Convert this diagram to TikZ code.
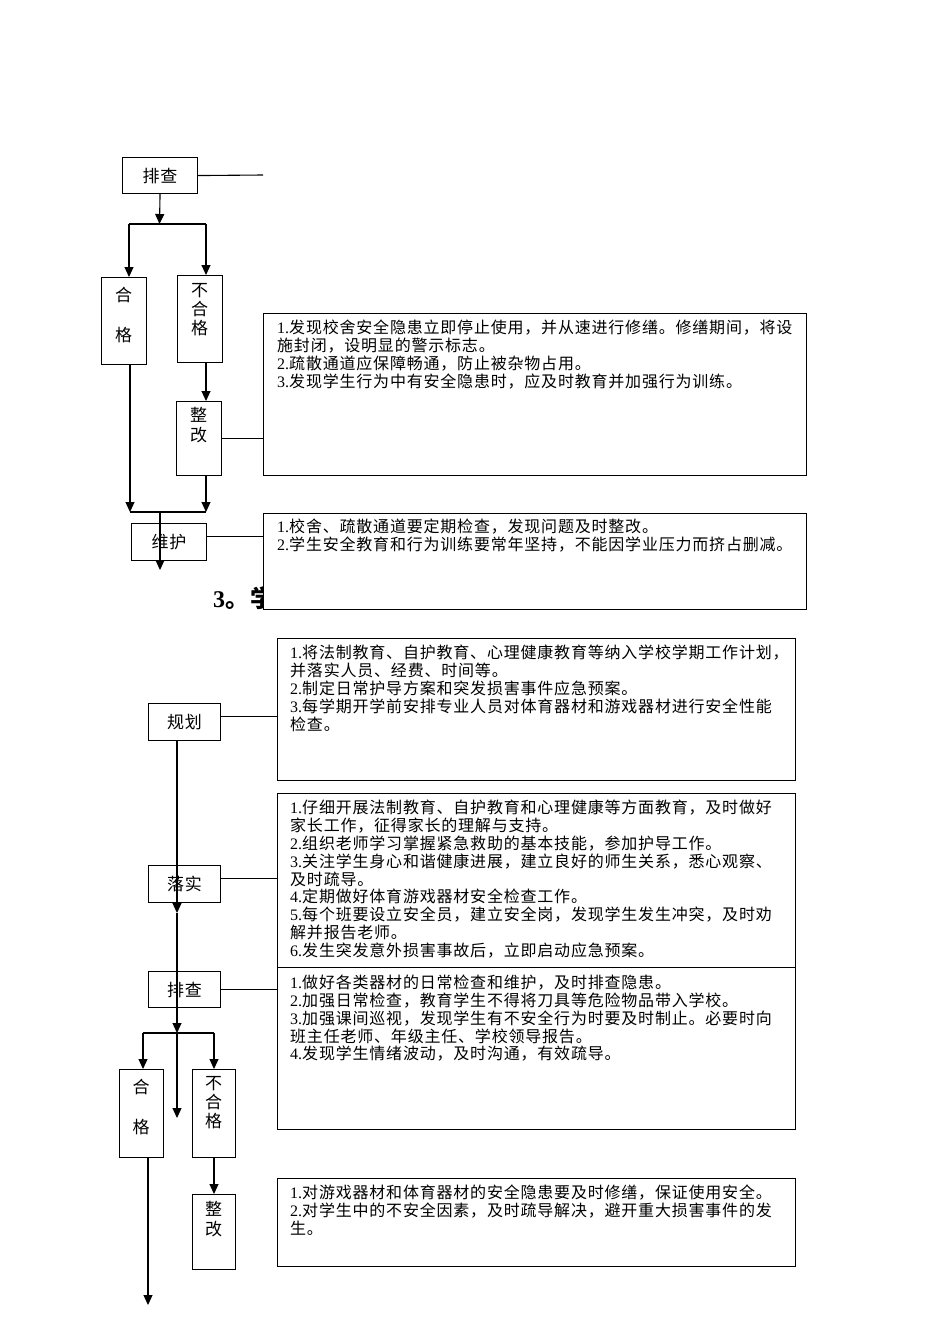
\documentclass[tikz,border=0pt]{standalone}
\usepackage{fontspec}
\setmainfont{Noto Sans CJK SC}[LetterSpace=5]
\newfontfamily\latinf{Liberation Serif}
\usetikzlibrary{arrows.meta}
\newcommand\itemno[1]{{\latinf #1.}}

\tikzset{
    stage/.style = {draw, line width = 1.1pt, inner sep = 0pt, anchor = north west, font = \fontsize{17}{18}\selectfont},
    vtext/.style = {anchor = north, align = center, inner sep = 0pt, font = \fontsize{17}{19}\selectfont},
    note/.style = {draw, fill = white, line width = 1.1pt, inner sep = 0pt, anchor = north west},
    notetext/.style = {anchor = north west, align = left, inner sep = 0pt, font = \fontsize{16}{17.8}\selectfont},
    flow/.style = {-{Triangle[length = 10pt, width = 9pt]}, line width = 1.1pt},
    link/.style = {line width = 1.1pt}
}

\begin{document}
\begin{tikzpicture}[x = 1pt, y = -1pt]
        \fill [white] (0, 0) rectangle (950, 1344);
        \useasboundingbox (0, 0) rectangle (950, 1344);
        % first chart
        \node (check1) at (122, 157) [stage, minimum width = 75, minimum height = 36] {排查};
        \node (pass1) at (101, 277) [stage, minimum width = 45, minimum height = 87] {};
        \node (pass1t) at (123.5, 286.5) [vtext] {合\\[21pt]格};
        \node (fail1) at (177, 275) [stage, minimum width = 45, minimum height = 87] {};
        \node (fail1t) at (199.5, 283.5) [vtext] {不\\合\\格};
        \node (fix1) at (176, 401) [stage, minimum width = 45, minimum height = 74] {};
        \node (fix1t) at (198.5, 407.5) [vtext] {整\\[1pt]改};
        \node (keep1) at (131, 523) [stage, minimum width = 75, minimum height = 37] {维护};
        \node (title3) at (213, 598) [anchor = west, inner sep = 0pt, font = \fontsize{24}{24}\selectfont\bfseries] {{\latinf 3}。学};
        \node (note1) at (263, 313) [note, minimum width = 543, minimum height = 162] {};
        \node (note1t) at (277, 320) [notetext] {\itemno{1}发现校舍安全隐患立即停止使用，并从速进行修缮。修缮期间，将设\\
            施封闭，设明显的警示标志。\\
            \itemno{2}疏散通道应保障畅通，防止被杂物占用。\\
            \itemno{3}发现学生行为中有安全隐患时，应及时教育并加强行为训练。};
        \node (note2) at (263, 513) [note, minimum width = 543, minimum height = 96] {};
        \node (note2t) at (277, 519) [notetext] {\itemno{1}校舍、疏散通道要定期检查，发现问题及时整改。\\
            \itemno{2}学生安全教育和行为训练要常年坚持，不能因学业压力而挤占删减。};
        \coordinate (c1end) at (263, 175);
        \coordinate (split1) at (159.5, 224);
        \coordinate (left1) at (129, 224);
        \coordinate (right1) at (206, 224);
        \coordinate (joinl1) at (130, 512);
        \coordinate (joinr1) at (206, 512);
        \coordinate (join1) at (160, 512);
        \coordinate (out1) at (160, 570);
        \draw [link] (check1.east) -- (c1end);
        \draw [flow] (check1.south) -- (split1);
        \draw [link] (left1) -- (right1);
        \draw [flow] (left1) -- (left1 |- pass1.north);
        \draw [flow] (right1) -- (right1 |- fail1.north);
        \draw [flow] (right1 |- fail1.south) -- (right1 |- fix1.north);
        \draw [link] (fix1.east) -- (fix1.east -| note1.west);
        \draw [flow] (joinl1 |- pass1.south) -- (joinl1);
        \draw [flow] (joinr1 |- fix1.south) -- (joinr1);
        \draw [link] (joinl1) -- (joinr1);
        \draw [flow] (join1) -- (out1);
        \draw [link] ([yshift = 5.5pt]keep1.east) -- ([yshift = 5.5pt]keep1.east -| note2.west);
        % second chart
        \node (plan) at (148, 703) [stage, minimum width = 72, minimum height = 37] {规划};
        \node (act) at (148, 865) [stage, minimum width = 72, minimum height = 37] {落实};
        \node (check2) at (148, 971) [stage, minimum width = 72, minimum height = 36] {排查};
        \node (pass2) at (119, 1069) [stage, minimum width = 44, minimum height = 88] {};
        \node (pass2t) at (141, 1078.5) [vtext] {合\\[21pt]格};
        \node (fail2) at (192, 1069) [stage, minimum width = 43, minimum height = 88] {};
        \node (fail2t) at (213.5, 1076.5) [vtext] {不\\合\\格};
        \node (fix2) at (192, 1194) [stage, minimum width = 43, minimum height = 75] {};
        \node (fix2t) at (213.5, 1201.5) [vtext] {整\\[1pt]改};
        \node (noteA) at (277, 638) [note, minimum width = 518, minimum height = 142] {};
        \node (noteAt) at (290, 645) [notetext] {\itemno{1}将法制教育、自护教育、心理健康教育等纳入学校学期工作计划，\\
            并落实人员、经费、时间等。\\
            \itemno{2}制定日常护导方案和突发损害事件应急预案。\\
            \itemno{3}每学期开学前安排专业人员对体育器材和游戏器材进行安全性能\\
            检查。};
        \node (noteB) at (277, 793) [note, minimum width = 518, minimum height = 174] {};
        \node (noteBt) at (290, 800) [notetext] {\itemno{1}仔细开展法制教育、自护教育和心理健康等方面教育，及时做好\\
            家长工作，征得家长的理解与支持。\\
            \itemno{2}组织老师学习掌握紧急救助的基本技能，参加护导工作。\\
            \itemno{3}关注学生身心和谐健康进展，建立良好的师生关系，悉心观察、\\
            及时疏导。\\
            \itemno{4}定期做好体育游戏器材安全检查工作。\\
            \itemno{5}每个班要设立安全员，建立安全岗，发现学生发生冲突，及时劝\\
            解并报告老师。\\
            \itemno{6}发生突发意外损害事故后，立即启动应急预案。};
        \node (noteC) at (277, 967) [note, minimum width = 518, minimum height = 162] {};
        \node (noteCt) at (290, 975) [notetext] {\itemno{1}做好各类器材的日常检查和维护，及时排查隐患。\\
            \itemno{2}加强日常检查，教育学生不得将刀具等危险物品带入学校。\\
            \itemno{3}加强课间巡视，发现学生有不安全行为时要及时制止。必要时向\\
            班主任老师、年级主任、学校领导报告。\\
            \itemno{4}发现学生情绪波动，及时沟通，有效疏导。};
        \node (noteD) at (277, 1178) [note, minimum width = 518, minimum height = 88] {};
        \node (noteDt) at (290, 1185) [notetext] {\itemno{1}对游戏器材和体育器材的安全隐患要及时修缮，保证使用安全。\\
            \itemno{2}对学生中的不安全因素，及时疏导解决，避开重大损害事件的发\\
            生。};
        \coordinate (trunk1) at (177, 913);
        \coordinate (split2) at (177, 1033);
        \coordinate (trunk2) at (177, 1118);
        \coordinate (left2) at (143, 1033);
        \coordinate (right2) at (214, 1033);
        \coordinate (out2) at (148, 1305);
        \draw [flow] (plan.south -| trunk1) -- (trunk1);
        \draw [flow] (trunk1) -- (split2);
        \draw [flow] (split2) -- (trunk2);
        \draw [link] (left2) -- (right2);
        \draw [flow] (left2) -- (left2 |- pass2.north);
        \draw [flow] (right2) -- (right2 |- fail2.north);
        \draw [flow] (right2 |- fail2.south) -- (right2 |- fix2.north);
        \draw [flow] (out2 |- pass2.south) -- (out2);
        \draw [link] ([yshift = 5.5pt]plan.east) -- ([yshift = 5.5pt]plan.east -| noteA.west);
        \draw [link] ([yshift = 5.5pt]act.east) -- ([yshift = 5.5pt]act.east -| noteB.west);
        \draw [link] (check2.east) -- (check2.east -| noteC.west);
    \end{tikzpicture}
\end{document}
